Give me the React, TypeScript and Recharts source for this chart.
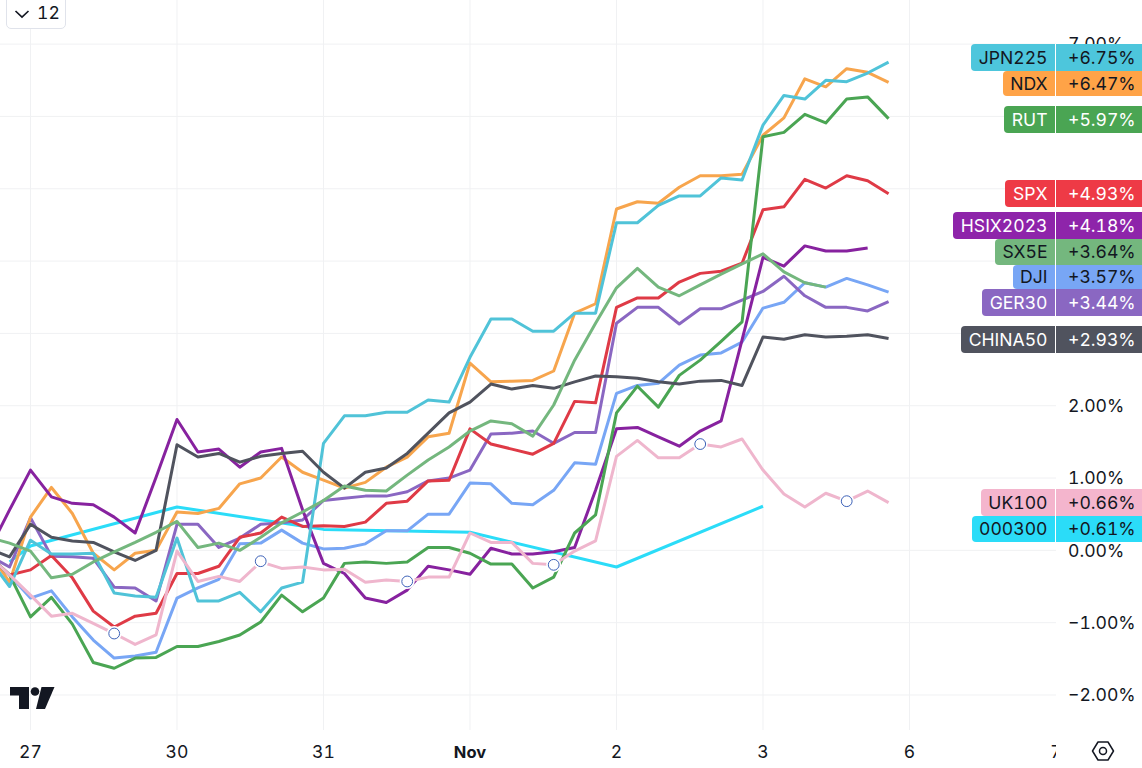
import React from 'react';
import { LineChart, Line, XAxis, YAxis, CartesianGrid } from 'recharts';

// bar index on the time scale, 7 bars per session
const bars = [-2, -1, 0, 1, 2, 3, 4, 5, 6, 7, 8, 9, 10, 11, 12, 13, 14, 15, 16, 17, 18, 19, 20, 21, 22, 23, 24, 25, 26, 27, 28, 29, 30, 31, 32, 33, 34, 35, 36, 37, 38, 39, 40, 41];
const tickBars = [0, 7, 14, 21, 28, 35, 42, 49];
const tickLabels = ['27', '30', '31', 'Nov', '2', '3', '6', '7'];
const percentTicks = [-2, -1, 0, 1, 2, 3, 4, 5, 6, 7];

const csi300 = [null, -0.16, 0.06, null, null, null, null, null, null, 0.60, null, null, null, null, null, null, 0.29, null, null, null, null, null, null, 0.25, null, null, null, null, null, null, -0.23, null, null, null, null, null, null, 0.61];
const dji = [-0.07, -0.34, -0.66, -0.56, -0.92, -1.24, -1.49, -1.46, -1.41, -0.66, -0.52, -0.40, 0.09, 0.10, 0.28, 0.10, 0.02, 0.03, 0.09, 0.27, 0.27, 0.50, 0.50, 0.93, 0.92, 0.65, 0.63, 0.83, 1.21, 1.19, 2.17, 2.28, 2.31, 2.56, 2.70, 2.73, 2.88, 3.35, 3.43, 3.70, 3.64, 3.76, 3.67, 3.57];
const ger30 = [-0.07, -0.23, 0.45, -0.08, -0.09, -0.11, -0.51, -0.52, -0.70, 0.36, 0.36, 0.04, 0.17, 0.36, 0.38, 0.42, 0.69, 0.72, 0.75, 0.75, 0.81, 0.96, 1.00, 1.11, 1.61, 1.62, 1.65, 1.48, 1.63, 1.63, 3.14, 3.36, 3.36, 3.13, 3.34, 3.34, 3.46, 3.58, 3.79, 3.52, 3.36, 3.36, 3.31, 3.44];
const ndx = [-0.02, -0.44, 0.46, 0.87, 0.51, -0.04, -0.27, -0.04, 0.00, 0.53, 0.51, 0.58, 0.92, 1.00, 1.29, 1.08, 0.97, 0.86, 0.94, 1.15, 1.29, 1.57, 1.62, 2.59, 2.33, 2.34, 2.35, 2.48, 3.28, 3.41, 4.72, 4.82, 4.80, 5.02, 5.18, 5.18, 5.20, 5.74, 5.98, 6.52, 6.41, 6.66, 6.61, 6.47];
const spx = [-0.07, -0.34, -0.27, -0.07, -0.38, -0.84, -1.06, -0.91, -0.87, -0.32, -0.32, -0.22, 0.18, 0.24, 0.46, 0.33, 0.34, 0.33, 0.39, 0.65, 0.68, 0.96, 0.97, 1.68, 1.47, 1.40, 1.33, 1.48, 2.06, 2.04, 3.36, 3.49, 3.49, 3.71, 3.83, 3.86, 3.97, 4.71, 4.75, 5.13, 5.01, 5.18, 5.11, 4.93];
const hsi = [-0.01, 0.56, 1.11, 0.74, 0.65, 0.63, 0.46, 0.24, 1.01, 1.81, 1.36, 1.40, 1.15, 1.36, 1.41, 0.56, -0.18, -0.32, -0.66, -0.72, -0.55, -0.22, -0.27, -0.33, 0.03, -0.05, -0.05, -0.02, 0.04, 0.83, 1.68, 1.70, 1.57, 1.44, 1.65, 1.79, 2.91, 4.05, 3.93, 4.21, 4.14, 4.14, 4.18];
const rut = [-0.07, -0.34, -0.92, -0.65, -1.02, -1.55, -1.63, -1.49, -1.48, -1.33, -1.33, -1.26, -1.17, -0.99, -0.62, -0.85, -0.66, -0.18, -0.16, -0.18, -0.16, 0.04, 0.04, -0.04, -0.19, -0.19, -0.52, -0.37, 0.24, 0.49, 1.90, 2.27, 1.98, 2.42, 2.63, 2.89, 3.16, 5.72, 5.78, 6.03, 5.91, 6.24, 6.27, 5.97];
const jpn225 = [-0.11, -0.50, 0.14, -0.05, -0.05, -0.04, -0.59, -0.63, -0.65, 0.17, -0.70, -0.70, -0.58, -0.85, -0.52, -0.44, 1.48, 1.86, 1.86, 1.91, 1.91, 2.08, 2.05, 2.67, 3.20, 3.20, 3.03, 3.03, 3.28, 3.28, 4.53, 4.53, 4.77, 4.90, 4.90, 5.15, 5.12, 5.88, 6.29, 6.24, 6.50, 6.48, 6.60, 6.75];
const china50 = [0.02, -0.09, 0.36, 0.18, 0.13, 0.11, -0.02, -0.14, 0.00, 1.46, 1.29, 1.34, 1.22, 1.30, 1.34, 1.37, 1.08, 0.86, 1.08, 1.14, 1.34, 1.62, 1.90, 2.05, 2.30, 2.23, 2.28, 2.24, 2.33, 2.41, 2.40, 2.38, 2.33, 2.30, 2.34, 2.35, 2.28, 2.95, 2.92, 2.98, 2.95, 2.96, 2.98, 2.93];
const sx5e = [0.18, 0.10, -0.01, -0.38, -0.33, -0.16, -0.02, 0.11, 0.25, 0.40, 0.04, 0.10, 0.00, 0.18, 0.38, 0.53, 0.69, 0.89, 0.83, 0.82, 1.04, 1.25, 1.43, 1.65, 1.79, 1.75, 1.58, 2.01, 2.63, 3.14, 3.63, 3.90, 3.64, 3.52, 3.67, 3.82, 3.96, 4.10, 3.85, 3.70, 3.64];
const uk100 = [-0.07, -0.34, -0.62, -0.91, -0.87, -1.01, -1.15, -1.30, -1.17, -0.01, -0.43, -0.36, -0.43, -0.16, -0.25, -0.23, -0.27, -0.26, -0.44, -0.41, -0.43, -0.37, -0.37, 0.24, 0.11, 0.11, -0.18, -0.20, -0.01, 0.13, 1.30, 1.52, 1.28, 1.28, 1.47, 1.43, 1.54, 1.11, 0.78, 0.60, 0.79, 0.68, 0.82, 0.66];

// event markers sitting on the UK100 line
const eventBars = [4, 11, 18, 25, 32, 39];
const eventValues = [-1.15, -0.15, -0.43, -0.2, 1.47, 0.68];

// draw order, bottom to top
const seriesNames = ['000300', 'DJI', 'GER30', 'NDX', 'SPX', 'HSIX2023', 'RUT', 'JPN225', 'CHINA50', 'SX5E', 'UK100'];
const seriesValues = [csi300, dji, ger30, ndx, spx, hsi, rut, jpn225, china50, sx5e, uk100];
const seriesColors = ['#2bdcf8', '#78a6f5', '#8a67c2', '#f7a54d', '#df3a46', '#87229f', '#4aa553', '#50c3d8', '#50535e', '#74b77e', '#efb6cd'];

// right hand scale labels, top to bottom
const labelNames = ['JPN225', 'NDX', 'RUT', 'SPX', 'HSIX2023', 'SX5E', 'DJI', 'GER30', 'CHINA50', 'UK100', '000300'];
const labelValues = ['+6.75%', '+6.47%', '+5.97%', '+4.93%', '+4.18%', '+3.64%', '+3.57%', '+3.44%', '+2.93%', '+0.66%', '+0.61%'];
const labelColors = ['#4dc6dc', '#ffa347', '#4aa553', '#ee3a46', '#8e24aa', '#74b77e', '#78a6f5', '#8a67c2', '#50535e', '#f4b5cd', '#2bdcf8'];
const labelText = ['#131722', '#131722', '#fff', '#fff', '#fff', '#131722', '#131722', '#fff', '#fff', '#131722', '#131722'];
const labelTops = [44, 71, 106, 180, 212, 239, 265, 289, 326, 489, 516];
const labelHeights = [27, 25, 27, 27, 27, 26, 24, 27, 27, 27, 26];

const chartData = bars.map((bar, i) => {
  const row: Record<string, number | null | undefined> = { bar };
  seriesNames.forEach((name, s) => {
    row[name] = seriesValues[s][i];
  });
  const e = eventBars.indexOf(bar);
  row.event = e >= 0 ? eventValues[e] : null;
  return row;
});

const FONT = 'Inter, "Noto Sans", sans-serif';
const PLOT_RIGHT = 1056;
const TEXT_SIZE = 17.6;

const TimeTick = (props: any) => {
  const { x, y, payload } = props;
  const label = tickLabels[tickBars.indexOf(payload.value)];
  return (
    <g clipPath="url(#timeClip)">
      <defs>
        <clipPath id="timeClip">
          <rect x={0} y={730} width={PLOT_RIGHT} height={38} />
        </clipPath>
      </defs>
      <text x={x} y={y + 20} textAnchor="middle" fontSize={label === 'Nov' ? 16.5 : TEXT_SIZE} fontFamily={FONT} fontWeight={label === 'Nov' ? 700 : 400} fill="#131722">
        {label}
      </text>
    </g>
  );
};

const EventDot = (props: any) => {
  const { cx, cy, value } = props;
  if (value == null || cy == null) return <g key={props.index} />;
  return (
    <g key={props.index}>
      <circle cx={cx} cy={cy} r={7.5} fill="#fff" />
      <circle cx={cx} cy={cy} r={5.4} fill="#fff" stroke="#3d62b8" strokeWidth={1} />
    </g>
  );
};

const formatPercent = (v: number) => (v < 0 ? '\u2212' : '') + Math.abs(v).toFixed(2) + '%';

export default function App() {
  return (
    <div style={{ position: 'absolute', left: 0, top: 0, width: 1142, height: 768, overflow: 'hidden', background: '#fff', fontFamily: FONT, fontVariantNumeric: 'tabular-nums' }}>
      <LineChart width={1142} height={768} data={chartData} margin={{ top: 0, right: 0, bottom: 0, left: 0 }}>
        <CartesianGrid stroke="#f0f1f3" strokeWidth={1} verticalValues={tickBars.slice(0, -1)} horizontalValues={percentTicks} />
        <XAxis
          dataKey="bar"
          type="number"
          domain={[-1.457, 49]}
          allowDataOverflow
          ticks={tickBars}
          interval={0}
          height={38}
          axisLine={false}
          tickLine={false}
          tick={TimeTick}
        />
        <YAxis
          orientation="right"
          width={86}
          domain={[-2.484, 7.61]}
          allowDataOverflow
          ticks={percentTicks}
          interval={0}
          axisLine={false}
          tickLine={false}
          tickMargin={6}
          tickFormatter={formatPercent}
          tick={{ fontSize: TEXT_SIZE, fontFamily: FONT, fill: '#131722', style: { fontVariantNumeric: 'tabular-nums' } }}
        />
        {seriesNames.map((name, s) => (
          <Line
            key={name}
            dataKey={name}
            type="linear"
            stroke={seriesColors[s]}
            strokeWidth={3}
            strokeLinejoin="round"
            dot={false}
            activeDot={false}
            connectNulls={name === '000300'}
            isAnimationActive={false}
          />
        ))}
        <Line dataKey="event" stroke="none" dot={EventDot} activeDot={false} isAnimationActive={false} />
      </LineChart>

      {labelNames.map((name, i) => (
        <div
          key={name}
          style={{
            position: 'absolute',
            right: 0,
            top: labelTops[i],
            height: labelHeights[i],
            lineHeight: labelHeights[i] + 'px',
            display: 'flex',
            fontSize: TEXT_SIZE,
            color: labelText[i],
            whiteSpace: 'nowrap',
            zIndex: labelNames.length - i,
          }}
        >
          <div style={{ background: labelColors[i], padding: '0 7.5px', borderRadius: '4px 0 0 4px' }}>{name}</div>
          <div style={{ width: 1, background: '#fff' }} />
          <div style={{ background: labelColors[i], width: 74, paddingLeft: 12 }}>{labelValues[i]}</div>
        </div>
      ))}

      <div
        style={{
          position: 'absolute',
          left: 6,
          top: -10,
          width: 58,
          height: 37,
          background: '#fff',
          border: '1px solid #e0e3eb',
          borderRadius: 5,
          color: '#131722',
          fontSize: TEXT_SIZE,
        }}
      >
        <svg width={16} height={10} style={{ position: 'absolute', left: 7, top: 18 }}>
          <path d="M1.5 2 L8 8 L14.5 2" fill="none" stroke="#131722" strokeWidth={1.7} />
        </svg>
        <span style={{ position: 'absolute', left: 30, top: 11 }}>12</span>
      </div>

      <svg width={60} height={30} style={{ position: 'absolute', left: 0, top: 683 }}>
        <path d="M10 4 H29 V26 H19 V12.5 H10 Z" fill="#131722" />
        <circle cx={35} cy={8.5} r={4.3} fill="#131722" />
        <path d="M41.5 4 H54.5 L45 26 H36 Z" fill="#131722" />
      </svg>

      <svg width={30} height={26} style={{ position: 'absolute', left: 1088, top: 738 }}>
        <path d="M10 4 H20 L25.5 13 L20 22 H10 L4.5 13 Z" fill="none" stroke="#131722" strokeWidth={1.5} strokeLinejoin="round" />
        <circle cx={15} cy={13} r={3.5} fill="none" stroke="#131722" strokeWidth={1.5} />
      </svg>
    </div>
  );
}
